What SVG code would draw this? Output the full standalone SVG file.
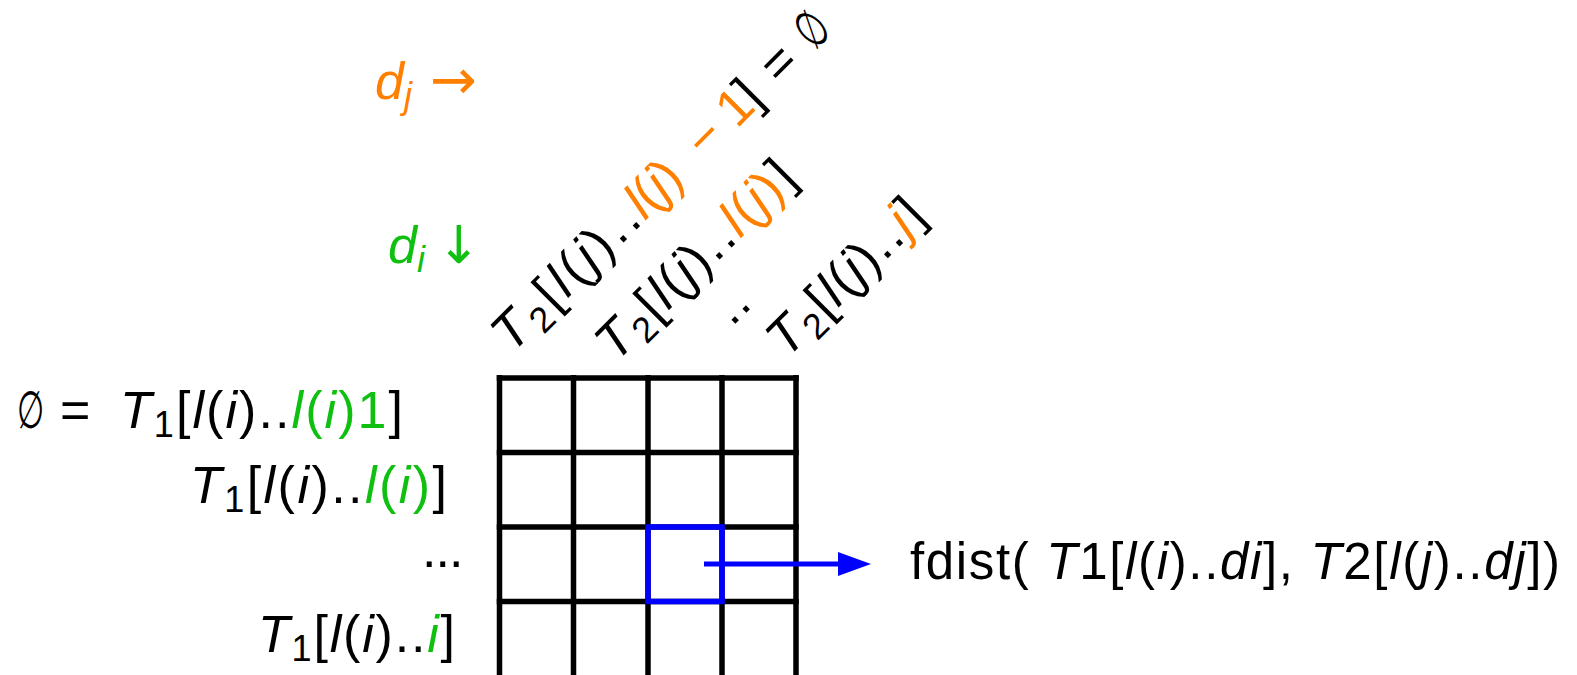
<svg xmlns="http://www.w3.org/2000/svg" width="1577" height="675" viewBox="0 0 1577 675">
<defs>
<style>
text { font-family: "Liberation Sans", "DejaVu Sans", sans-serif; font-size: 52px; fill: #000; }
.it { font-style: italic; }
.sub { font-size: 36px; }
.or { fill: #FF8000; }
.gr { fill: #10C010; }
.grid line { stroke: #000; stroke-width: 5.5; stroke-linecap: butt; }
.blue { stroke: #0000FF; fill: none; stroke-width: 5.5; }
</style>
<marker id="arrow" viewBox="0 0 33 24" refX="0" refY="12" markerWidth="33" markerHeight="24" markerUnits="userSpaceOnUse" orient="auto">
<path d="M0,0 L33,12 L0,24 Z" fill="#0000FF"/>
</marker>
</defs>
<rect width="1577" height="675" fill="#fff"/>

<g id="legend-dj">
<text x="375" y="99" class="or"><tspan class="it">d</tspan><tspan class="sub it" dy="9">j</tspan><tspan x="430" dy="-9" font-family="DejaVu Sans" font-size="56">→</tspan></text>
</g>
<g id="legend-di">
<text x="388" y="263" class="gr"><tspan class="it">d</tspan><tspan class="sub it" dy="9">i</tspan><tspan x="437" dy="-9" font-family="DejaVu Sans">↓</tspan></text>
</g>

<g id="col-label-1">
<text transform="translate(512,354) rotate(-45)"><tspan textLength="186" lengthAdjust="spacing"><tspan class="it">T</tspan><tspan class="sub" dy="9">2</tspan><tspan dy="-9">[</tspan><tspan class="it">l</tspan>(<tspan class="it">j</tspan>)..</tspan><tspan class="or" x="188"><tspan class="it">l</tspan>(<tspan class="it">j</tspan>)</tspan><tspan class="or" x="274">−</tspan><tspan class="or" x="318">1</tspan><tspan x="344">]</tspan><tspan x="379">=</tspan></text>
<text transform="translate(512,354) rotate(-45) translate(428,0) scale(0.6,1)">∅</text>
</g>
<g id="col-label-2">
<text transform="translate(616,363) rotate(-45)" textLength="258" lengthAdjust="spacing"><tspan class="it">T</tspan><tspan class="sub" dy="9">2</tspan><tspan dy="-9">[</tspan><tspan class="it">l</tspan>(<tspan class="it">j</tspan>)..<tspan class="or"><tspan class="it">l</tspan>(<tspan class="it">j</tspan>)</tspan>]</text>
</g>
<g id="col-dots">
<text transform="translate(732,327) rotate(-45)" letter-spacing="1">..</text>
</g>
<g id="col-label-3">
<text transform="translate(787,359) rotate(-45)" textLength="199" lengthAdjust="spacing"><tspan class="it">T</tspan><tspan class="sub" dy="9">2</tspan><tspan dy="-9">[</tspan><tspan class="it">l</tspan>(<tspan class="it">j</tspan>)..<tspan class="or it">j</tspan>]</text>
</g>

<g id="row-label-1">
<text transform="translate(17,428) scale(0.6,1)">∅</text>
<text x="60" y="428">=</text>
<text x="120" y="428" textLength="283" lengthAdjust="spacing"><tspan class="it">T</tspan><tspan class="sub" dy="9">1</tspan><tspan dy="-9">[</tspan><tspan class="it">l</tspan>(<tspan class="it">i</tspan>)..<tspan class="gr"><tspan class="it">l</tspan>(<tspan class="it">i</tspan>)1</tspan>]</text>
</g>
<g id="row-label-2">
<text x="190" y="503" textLength="257" lengthAdjust="spacing"><tspan class="it">T</tspan><tspan class="sub" dy="9">1</tspan><tspan dy="-9">[</tspan><tspan class="it">l</tspan>(<tspan class="it">i</tspan>)..<tspan class="gr"><tspan class="it">l</tspan>(<tspan class="it">i</tspan>)</tspan>]</text>
</g>
<g id="row-label-3">
<text x="422" y="567" letter-spacing="-1">...</text>
</g>
<g id="row-label-4">
<text x="258" y="652" textLength="197" lengthAdjust="spacing"><tspan class="it">T</tspan><tspan class="sub" dy="9">1</tspan><tspan dy="-9">[</tspan><tspan class="it">l</tspan>(<tspan class="it">i</tspan>)..<tspan class="gr it">i</tspan>]</text>
</g>

<g id="matrix" class="grid">
<line x1="499.5" y1="375" x2="499.5" y2="680"/>
<line x1="573.5" y1="375" x2="573.5" y2="680"/>
<line x1="648" y1="375" x2="648" y2="680"/>
<line x1="722" y1="375" x2="722" y2="680"/>
<line x1="796" y1="375" x2="796" y2="680"/>
<line x1="496.75" y1="378" x2="798.75" y2="378"/>
<line x1="496.75" y1="452.5" x2="798.75" y2="452.5"/>
<line x1="496.75" y1="527" x2="798.75" y2="527"/>
<line x1="496.75" y1="601.5" x2="798.75" y2="601.5"/>
</g>

<g id="highlight-cell">
<rect class="blue" x="648" y="527" width="74" height="74.5"/>
</g>

<g id="connectors">
<line x1="704" y1="564" x2="838" y2="564" stroke="#0000FF" stroke-width="5" marker-end="url(#arrow)"/>
</g>

<g id="result-label">
<text x="910" y="579" textLength="650" lengthAdjust="spacing" style="font-size:51px">fdist( <tspan class="it">T</tspan>1[<tspan class="it">l</tspan>(<tspan class="it">i</tspan>)..<tspan class="it">di</tspan>], <tspan class="it">T</tspan>2[<tspan class="it">l</tspan>(<tspan class="it">j</tspan>)..<tspan class="it">dj</tspan>])</text>
</g>
</svg>
